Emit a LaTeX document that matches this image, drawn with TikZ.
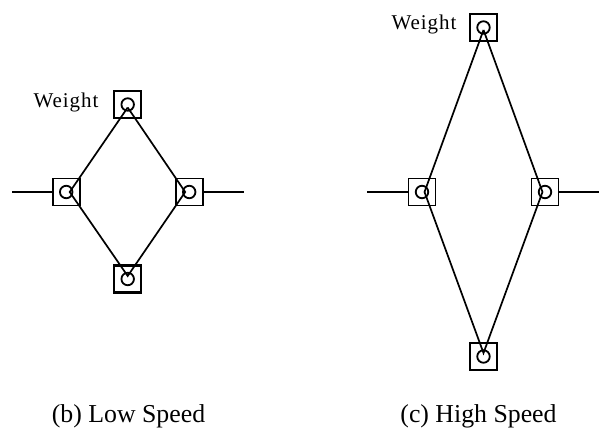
\documentclass[tikz,border=0pt]{standalone}
\usepackage{fontspec}
\setmainfont{Liberation Serif}
\usetikzlibrary{positioning}
\tikzstyle{box} = [rectangle, draw, line width=1.8pt, minimum size=27pt, inner sep=0pt]
\tikzstyle{heavybox} = [box, line width=2.2pt]
\tikzstyle{pin} = [circle, draw, line width=1.8pt, minimum size=12.5pt, inner sep=0pt]
\tikzstyle{lbl} = [font=\fontsize{25.8}{30}\selectfont, inner sep=0pt, anchor=base]
\tikzstyle{wlbl} = [font=\fontsize{21}{24}\selectfont\addfontfeatures{LetterSpace=4.5}, inner sep=0pt, anchor=base]
\begin{document}
\begin{tikzpicture}[x=1pt,y=-1pt,line width=1.7pt,on grid]
  \useasboundingbox (0,0) rectangle (600,431);

  % low speed
  \node[heavybox]  (t1) at (127.7,104.5)                 {};
  \node[box]       (l1) [below left=87.5pt and 61.5pt of t1]  {};
  \node[box]       (r1) [below right=87.5pt and 61.5pt of t1] {};
  \node[heavybox]  (b1) [below=174.5pt of t1]             {};
  \node[pin] (tp1) at (t1) {};
  \node[pin] (lp1) at (l1) {};
  \node[pin] (rp1) at (r1) {};
  \node[pin] (bp1) at (b1) {};
  \coordinate (tj1) at ([yshift=-3pt]t1.center);
  \coordinate (bj1) at ([yshift=3pt]b1.center);
  \coordinate (lj1) at ([xshift=3.5pt]l1.center);
  \coordinate (rj1) at ([xshift=-4pt]r1.center);
  \coordinate (le1) at (12,192);
  \coordinate (re1) at (244,192);
  \draw (tj1) -- (lj1) -- (bj1) -- (rj1) -- (tj1);
  \draw (le1) -- (l1.west);
  \draw (r1.east) -- (re1);
  \node[wlbl] (w1) at (66,107) {Weight};
  \node[lbl]  (c1) at (128.5,422.7) {(b) Low Speed};

  % high speed
  \node[heavybox]  (t2) at (483.5,27.5)                   {};
  \node[box]       (l2) [below left=164.5pt and 61.5pt of t2]  {};
  \node[box]       (r2) [below right=164.5pt and 61.5pt of t2] {};
  \node[heavybox]  (b2) [below=329pt of t2]               {};
  \node[pin] (tp2) at (t2) {};
  \node[pin] (lp2) at (l2) {};
  \node[pin] (rp2) at (r2) {};
  \node[pin] (bp2) at (b2) {};
  \coordinate (tj2) at ([yshift=-2.5pt]t2.center);
  \coordinate (bj2) at ([yshift=3.5pt]b2.center);
  \coordinate (lj2) at ([xshift=2.5pt]l2.center);
  \coordinate (rj2) at ([xshift=-2.5pt]r2.center);
  \coordinate (le2) at (367,192);
  \coordinate (re2) at (599,192);
  \draw (tj2) -- (lj2) -- (bj2) -- (rj2) -- (tj2);
  \draw (le2) -- (l2.west);
  \draw (r2.east) -- (re2);
  \node[wlbl] (w2) at (424,29.5) {Weight};
  \node[lbl]  (c2) at (478.5,422.7) {(c) High Speed};
\end{tikzpicture}
\end{document}
